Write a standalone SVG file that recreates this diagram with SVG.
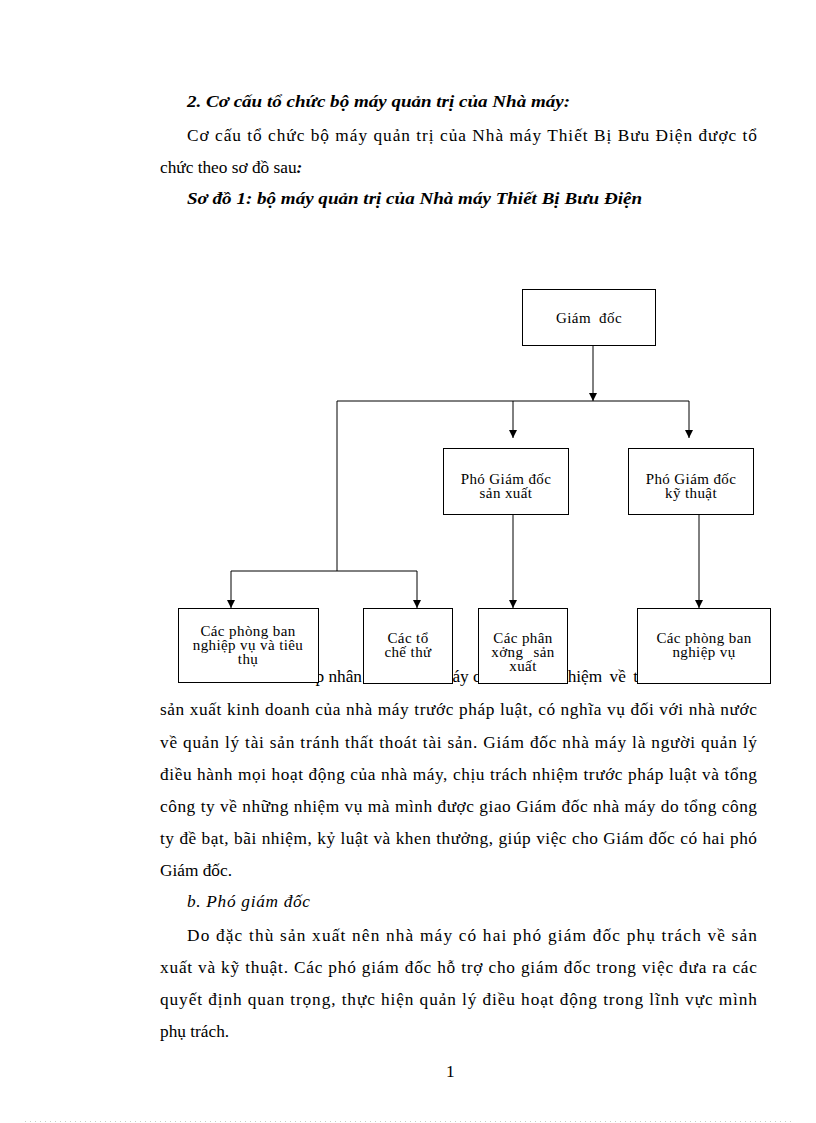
<svg xmlns="http://www.w3.org/2000/svg" width="816" height="1123" viewBox="0 0 816 1123">
<style>
.t{font-family:"Liberation Serif","Times New Roman",serif;font-size:17.3px;fill:#000}
.bi{font-weight:bold;font-style:italic}
.it{font-style:italic}
.bx{fill:#fff;stroke:#000;stroke-width:1}
.bt{font-family:"Liberation Serif","Times New Roman",serif;font-size:15px;letter-spacing:0.4px;fill:#000;text-anchor:middle}
.ln{stroke:#000;stroke-width:1;fill:none}
</style>
<defs>
<marker id="ah" viewBox="0 0 10 10" refX="10" refY="5" markerWidth="8" markerHeight="8" markerUnits="userSpaceOnUse" orient="auto">
<path d="M0,0 L10,5 L0,10 z" fill="#000"/>
</marker>
</defs>
<rect width="816" height="1123" fill="#fff"/>
<g id="page-text">
<text class="t bi" x="187" y="107" textLength="383" lengthAdjust="spacingAndGlyphs">2. Cơ cấu tổ chức bộ máy quản trị của Nhà máy:</text>
<text class="t" x="187" y="141" textLength="570" lengthAdjust="spacing">Cơ cấu tổ chức bộ máy quản trị của Nhà máy Thiết Bị Bưu Điện được tổ</text>
<text class="t" x="160" y="173">chức theo sơ đồ sau<tspan class="bi">:</tspan></text>
<text class="t bi" x="187" y="204" textLength="455" lengthAdjust="spacingAndGlyphs">Sơ đồ 1: bộ máy quản trị của Nhà máy Thiết Bị Bưu Điện</text>
<text class="t" x="362" y="682" text-anchor="end">p nhân</text>
<text class="t" x="439" y="682">máy c</text>
<text class="t" x="559" y="682" word-spacing="3">nhiệm về t</text>
<text class="t" x="160" y="715" textLength="597" lengthAdjust="spacing">sản xuất kinh doanh của nhà máy trước pháp luật, có nghĩa vụ đối với nhà nước</text>
<text class="t" x="160" y="748" textLength="597" lengthAdjust="spacing">về quản lý tài sản tránh thất thoát tài sản. Giám đốc nhà máy là người quản lý</text>
<text class="t" x="160" y="780" textLength="597" lengthAdjust="spacing">điều hành mọi hoạt động của nhà máy, chịu trách nhiệm trước pháp luật và tổng</text>
<text class="t" x="160" y="812" textLength="597" lengthAdjust="spacing">công ty về những nhiệm vụ mà mình được giao Giám đốc nhà máy do tổng công</text>
<text class="t" x="160" y="844" textLength="597" lengthAdjust="spacing">ty đề bạt, bãi nhiệm, kỷ luật và khen thưởng, giúp việc cho Giám đốc có hai phó</text>
<text class="t" x="160" y="876">Giám đốc.</text>
<text class="t it" x="187" y="907" textLength="123" lengthAdjust="spacing">b. Phó giám đốc</text>
<text class="t" x="187" y="941" textLength="570" lengthAdjust="spacing">Do đặc thù sản xuất nên nhà máy có hai phó giám đốc phụ trách về sản</text>
<text class="t" x="160" y="973" textLength="597" lengthAdjust="spacing">xuất và kỹ thuật. Các phó giám đốc hỗ trợ cho giám đốc trong việc đưa ra các</text>
<text class="t" x="160" y="1005" textLength="597" lengthAdjust="spacing">quyết định quan trọng, thực hiện quản lý điều hoạt động trong lĩnh vực mình</text>
<text class="t" x="160" y="1037">phụ trách.</text>
<text class="t" x="446" y="1077">1</text>
</g>
<line x1="25" y1="1121.5" x2="795" y2="1121.5" stroke="#c6cec6" stroke-width="1" stroke-dasharray="1 4"/>
<g id="connectors">
<line class="ln" x1="593" y1="345" x2="593" y2="401" marker-end="url(#ah)"/>
<line class="ln" x1="337" y1="401" x2="689" y2="401"/>
<line class="ln" x1="513" y1="401" x2="513" y2="438" marker-end="url(#ah)"/>
<line class="ln" x1="689" y1="401" x2="689" y2="438" marker-end="url(#ah)"/>
<line class="ln" x1="337" y1="401" x2="337" y2="571"/>
<line class="ln" x1="231" y1="571" x2="417" y2="571"/>
<line class="ln" x1="231" y1="571" x2="231" y2="608" marker-end="url(#ah)"/>
<line class="ln" x1="417" y1="571" x2="417" y2="608" marker-end="url(#ah)"/>
<line class="ln" x1="513" y1="514" x2="513" y2="608" marker-end="url(#ah)"/>
<line class="ln" x1="699" y1="514" x2="699" y2="608" marker-end="url(#ah)"/>
</g>
<g id="giam-doc">
<rect class="bx" x="522.5" y="289.5" width="133" height="56"/>
<text class="bt" x="589" y="323" word-spacing="4">Giám đốc</text>
</g>
<g id="pho-gd-san-xuat">
<rect class="bx" x="443.5" y="448.5" width="125" height="66"/>
<text class="bt" x="506" y="484">Phó Giám đốc</text>
<text class="bt" x="506" y="498">sản xuất</text>
</g>
<g id="pho-gd-ky-thuat">
<rect class="bx" x="628.5" y="448.5" width="125" height="66"/>
<text class="bt" x="691" y="484">Phó Giám đốc</text>
<text class="bt" x="691" y="498">kỹ thuật</text>
</g>
<g id="phong-ban-tieu-thu">
<rect class="bx" x="178.5" y="608.5" width="140" height="74"/>
<text class="bt" x="248" y="636">Các phòng ban</text>
<text class="bt" x="248" y="650">nghiệp vụ và tiêu</text>
<text class="bt" x="248" y="664">thụ</text>
</g>
<g id="to-che-thu">
<rect class="bx" x="363.5" y="608.5" width="89" height="75"/>
<text class="bt" x="408" y="643">Các tổ</text>
<text class="bt" x="408" y="657">chế thử</text>
</g>
<g id="phan-xuong">
<rect class="bx" x="478.5" y="608.5" width="89" height="75"/>
<text class="bt" x="523" y="643">Các phân</text>
<text class="bt" x="523" y="657" word-spacing="6">xởng sản</text>
<text class="bt" x="523" y="671">xuất</text>
</g>
<g id="phong-ban-nghiep-vu">
<rect class="bx" x="637.5" y="608.5" width="133" height="75"/>
<text class="bt" x="704" y="643">Các phòng ban</text>
<text class="bt" x="704" y="657">nghiệp vụ</text>
</g>
</svg>
